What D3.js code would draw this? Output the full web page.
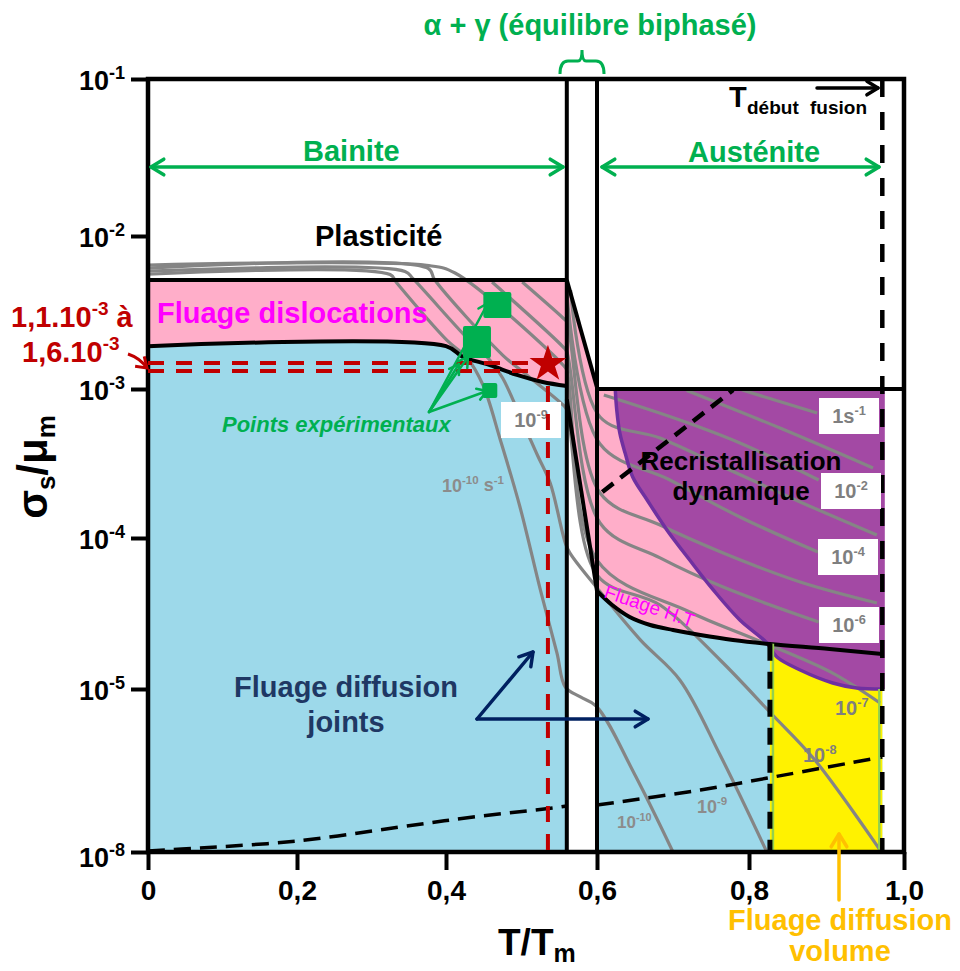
<!DOCTYPE html>
<html><head><meta charset="utf-8">
<script src="https://cdn.jsdelivr.net/npm/d3@7"></script>
<style>
body{margin:0;background:#fff}
svg{display:block}
svg text{font-family:"Liberation Sans",Arial,sans-serif}
</style>
</head><body>
<svg id="c" width="960" height="971"></svg>
<script>
// ---------------- DATA (T/Tm, log10(sigma_s/mu_m)) ----------------
const xTicks = [0, 0.2, 0.4, 0.6, 0.8, 1.0];
const yTickExp = [-8, -5, -4, -3, -2, -1];

const bainiteEnd = 0.56, austeniteStart = 0.6, fusionT = 0.972, volumeStartT = 0.827;
const plasticityLeft = -2.288, plasticityRight = -3.0;

const dislocBoundary = [[0,-2.72],[0.4,-2.72],[0.4225,-2.791],[0.458,-2.843],[0.494,-2.908],[0.528,-2.954],[0.56,-2.98]];
const bandUpper = [[0.56,-2.288],[0.6,-2.99]];
const bandLower = [[0.56,-3.07],[0.6,-4.351]];
const htBoundary = [[0.6,-4.351],[0.62,-4.444],[0.643,-4.523],[0.67,-4.576],[0.7,-4.609],[0.736,-4.642],[0.779,-4.675],[0.827,-4.702],[0.904,-4.735],[0.972,-4.768]];
const recrBoundary = [[0.624,-3.0],[0.626,-3.141],[0.63,-3.295],[0.637,-3.43],[0.647,-3.591],[0.666,-3.745],[0.692,-3.946],[0.722,-4.146],[0.753,-4.344],[0.788,-4.543],[0.823,-4.695],[0.836,-4.788],[0.866,-4.874],[0.908,-4.96],[0.939,-4.993],[0.972,-5.0]];
const recrLimit = [[0.607,-3.691],[0.779,-3.007]];
const lowerDashLeft = [[0,-7.98],[0.07,-7.926],[0.2,-7.798],[0.338,-7.54],[0.436,-7.356],[0.542,-7.19],[0.56,-7.153]];
const lowerDashRight = [[0.6,-7.135],[0.736,-6.859],[0.824,-6.638],[0.972,-6.252]];

const strainRates = ["1","1e-1","1e-2","1e-3","1e-4","1e-5","1e-6","1e-7","1e-8","1e-9","1e-10"];
const isoRateLines = [
 [[0.791,-3.007],[0.888,-3.161]],
 [[0.718,-3.01],[0.840,-3.262],[0.960,-3.530]],
 [[0.609,-3.040],[0.709,-3.208],[0.788,-3.362],[0.890,-3.611]],
 [[0.565,-2.353],[0.604,-3.188],[0.683,-3.329],[0.766,-3.523],[0.866,-3.758],[0.965,-3.980]],
 [[0.56,-2.366],[0.604,-3.369],[0.696,-3.611],[0.788,-3.859],[0.889,-4.093]],
 [[0.501,-2.301],[0.555,-2.536],[0.56,-2.562],[0.604,-3.698],[0.683,-3.913],[0.766,-4.099],[0.866,-4.291],[0.965,-4.430]],
 [[0.461,-2.301],[0.555,-2.725],[0.56,-2.758],[0.604,-3.899],[0.683,-4.132],[0.766,-4.325],[0.890,-4.556]],
 [[0,-2.19],[0.374,-2.192],[0.412,-2.242],[0.555,-2.843],[0.56,-2.876],[0.6,-4.146],[0.722,-4.490],[0.810,-4.675],[0.905,-4.887],[0.969,-5.258]],
 [[0,-2.21],[0.376,-2.212],[0.385,-2.288],[0.475,-2.778],[0.507,-2.908],[0.555,-3.107],[0.56,-3.141],[0.6,-4.245],[0.683,-4.444],[0.762,-4.808],[0.828,-5.442],[0.885,-6.307],[0.969,-7.963]],
 [[0,-2.23],[0.345,-2.232],[0.356,-2.281],[0.428,-2.667],[0.458,-2.810],[0.475,-2.928],[0.502,-3.228],[0.521,-3.443],[0.538,-3.631],[0.558,-4.033],[0.564,-4.099],[0.6,-4.331],[0.657,-4.675],[0.709,-4.940],[0.762,-6.215],[0.823,-8.0]],
 [[0,-2.25],[0.325,-2.252],[0.334,-2.307],[0.401,-2.680],[0.428,-2.797],[0.449,-2.974],[0.472,-3.342],[0.498,-3.792],[0.525,-4.344],[0.547,-4.762],[0.558,-4.987],[0.578,-5.147],[0.599,-5.313],[0.650,-6.583],[0.700,-8.0]]
];

const expT = [0.468, 0.441, 0.458];
const expLogS = [-2.451, -2.693, -3.01];
const stressRangeLog = [-2.83, -2.882];   // 1,1.10^-3 à 1,6.10^-3
const testT = 0.535;
const starLogS = -2.837;

// ---------------- SCALES ----------------
const svg = d3.select("#c");
const X = d3.scaleLinear().domain(xTicks).range([148,297,446,597,749,904]);
const Y = d3.scaleLinear().domain(yTickExp).range([852,689,538,389,236,79]);
const curved = d3.line().x(d=>X(d[0])).y(d=>Y(d[1])).curve(d3.curveCatmullRom.alpha(0.5));
const straight = d3.line().x(d=>X(d[0])).y(d=>Y(d[1]));
const L = (t,e,dx=0)=>`L${X(t)+dx},${Y(e)}`;

const PINK="#FFAEC9", BLUE="#9DD9EA", PURPLE="#A349A4", YELLOW="#FFF200", GRAY="#858585";
const GREEN="#00B050", RED="#C00000", MAG="#FF00FF";

// ---------------- REGIONS ----------------
const reg = svg.append("g");
reg.append("path").attr("fill",PINK)
  .attr("d", curved(dislocBoundary)+L(bainiteEnd,plasticityLeft)+L(0,plasticityLeft)+"Z");
reg.append("path").attr("fill",BLUE)
  .attr("d", curved(dislocBoundary)+L(bainiteEnd,-8)+L(0,-8)+"Z");
reg.append("path").attr("fill",PINK)
  .attr("d", straight([bandUpper[0],bandUpper[1],bandLower[1],bandLower[0]])+"Z");
reg.append("path").attr("fill",BLUE)
  .attr("d", curved(htBoundary)+L(fusionT,-8)+L(austeniteStart,-8)+"Z");
reg.append("path").attr("fill",PINK)
  .attr("d", curved(htBoundary)+L(fusionT,plasticityRight)+L(austeniteStart,plasticityRight)+"Z");
reg.append("rect").attr("fill",YELLOW)
  .attr("x",X(volumeStartT)).attr("y",Y(-4.70))
  .attr("width",X(fusionT)-X(volumeStartT)).attr("height",Y(-8)-Y(-4.70));
reg.append("path").attr("fill",PURPLE)
  .attr("d", curved(recrBoundary)+L(fusionT,-5.0,2.5)+L(fusionT,plasticityRight,2.5)+"Z");

// ---------------- ISO STRAIN RATE LINES ----------------
svg.append("g").selectAll("path").data(isoRateLines).join("path")
  .attr("d", d=>curved(d)).attr("fill","none").attr("stroke",GRAY)
  .attr("stroke-width",3.2).attr("stroke-linejoin","round");

[lowerDashLeft, lowerDashRight].forEach(p=>{
  svg.append("path").attr("d",curved(p)).attr("fill","none").attr("stroke","#000")
   .attr("stroke-width",3.5).attr("stroke-dasharray","17,9");
});

svg.append("path").attr("d",curved(recrBoundary)).attr("fill","none")
  .attr("stroke","#7030A0").attr("stroke-width",3.5);

// ---------------- BLACK BOUNDARIES ----------------
const bl = svg.append("g").attr("fill","none").attr("stroke","#000").attr("stroke-width",4);
bl.append("path").attr("d", straight([[0,plasticityLeft],[bainiteEnd,plasticityLeft]]));
bl.append("path").attr("d", curved(dislocBoundary));
bl.append("path").attr("d", straight(bandUpper));
bl.append("path").attr("d", straight(bandLower));
bl.append("path").attr("d", straight([[austeniteStart,plasticityRight],[1,plasticityRight]]));
bl.append("path").attr("d", curved(htBoundary));
bl.append("path").attr("d", straight([[bainiteEnd,-1],[bainiteEnd,-8]]));
bl.append("path").attr("d", straight([[austeniteStart,-1],[austeniteStart,-8]]));
// thin lime borders of the yellow zone
svg.append("path").attr("d", `M${X(volumeStartT)+3},${Y(-4.70)}V${Y(-8)}`).attr("stroke","#92D050").attr("stroke-width",2.5);
svg.append("path").attr("d", `M${X(fusionT)-3},${Y(-5.0)}V${Y(-8)}`).attr("stroke","#92D050").attr("stroke-width",2.5);
// dashed lines
svg.append("path").attr("d", straight([[volumeStartT,-4.70],[volumeStartT,-8]])).attr("stroke","#000").attr("stroke-width",5).attr("stroke-dasharray","17,11");
svg.append("path").attr("d", straight([[fusionT,-1],[fusionT,-8]])).attr("stroke","#000").attr("stroke-width",4.5).attr("stroke-dasharray","18,15");
svg.append("path").attr("d", straight(recrLimit)).attr("stroke","#000").attr("stroke-width",4.5).attr("stroke-dasharray","14,9");
svg.append("rect").attr("x",X(0)).attr("y",Y(-1)).attr("width",X(1)-X(0)).attr("height",Y(-8)-Y(-1))
  .attr("fill","none").attr("stroke","#000").attr("stroke-width",4.5);

// ---------------- AXES ----------------
const fmtX = d => d===0 ? "0" : d3.format(".1f")(d).replace(".",",");
const gx = svg.append("g").attr("transform",`translate(0,${Y(-8)})`)
  .call(d3.axisBottom(X).tickValues(xTicks).tickSize(18).tickPadding(10).tickFormat(fmtX));
gx.attr("font-family",null).attr("font-size",null);
gx.select(".domain").remove();
gx.selectAll(".tick line").attr("stroke","#000").attr("stroke-width",4);
gx.selectAll(".tick text").attr("font-size",28).attr("font-weight","bold").attr("fill","#000");

const gy = svg.append("g").attr("transform",`translate(${X(0)},0)`)
  .call(d3.axisLeft(Y).tickValues(yTickExp).tickSize(17).tickPadding(6).tickFormat(""));
gy.attr("font-family",null).attr("font-size",null);
gy.select(".domain").remove();
gy.selectAll(".tick line").attr("stroke","#000").attr("stroke-width",4);
gy.selectAll(".tick text").each(function(d){
  const t = d3.select(this).attr("font-size",27).attr("font-weight","bold").attr("fill","#000")
    .attr("dy", d===-8 ? "0.55em" : "0.4em");
  t.append("tspan").text("10");
  t.append("tspan").attr("dy",-11).attr("font-size",18).text(String(d));
});

// ---------------- HELPERS ----------------
function chevron(x1,y1,x2,y2,len,ang){
  const a=Math.atan2(y2-y1,x2-x1);
  const p1=[x2-len*Math.cos(a-ang), y2-len*Math.sin(a-ang)];
  const p2=[x2-len*Math.cos(a+ang), y2-len*Math.sin(a+ang)];
  return `M${p1[0]},${p1[1]}L${x2},${y2}L${p2[0]},${p2[1]}`;
}
function arrow(x1,y1,x2,y2,color,w,len,both){
  const g=svg.append("g").attr("fill","none").attr("stroke",color).attr("stroke-width",w)
    .attr("stroke-linecap","round").attr("stroke-linejoin","round");
  g.append("path").attr("d",`M${x1},${y1}L${x2},${y2}`);
  g.append("path").attr("d",chevron(x1,y1,x2,y2,len,0.55));
  if(both) g.append("path").attr("d",chevron(x2,y2,x1,y1,len,0.55));
}
function txt(x,y,s,size,fill,opt={}){
  return svg.append("text").attr("x",x).attr("y",y).attr("font-size",size)
    .attr("font-weight",opt.weight||"bold").attr("fill",fill)
    .attr("font-style",opt.italic?"italic":null)
    .attr("text-anchor",opt.anchor||"start").text(s);
}
function supTxt(x,y,base,sup,size,fill,anchor){
  const t=svg.append("text").attr("x",x).attr("y",y).attr("font-size",size)
    .attr("font-weight","bold").attr("fill",fill).attr("text-anchor",anchor||"start");
  t.append("tspan").text(base);
  t.append("tspan").attr("dy",-size*0.42).attr("font-size",size*0.64).text(sup);
  return t;
}
function boxLabel(cx,cy,base,sup){
  svg.append("rect").attr("x",cx-30).attr("y",cy-18).attr("width",60).attr("height",36).attr("fill","#fff");
  supTxt(cx,cy+7,base,sup,20,"#7F7F7F","middle");
}

// ---------------- LABELS ----------------
boxLabel(849,416,"1s","-1");
boxLabel(851,491,"10","-2");
boxLabel(848,557,"10","-4");
boxLabel(849,625,"10","-6");
boxLabel(531,420,"10","-9");
{ const t=supTxt(442,492,"10","-10",18,"#8C8C8C"); t.append("tspan").attr("dy",7).attr("font-size",18).text(" s"); t.append("tspan").attr("dy",-7).attr("font-size",11.5).text("-1"); }
supTxt(835,715,"10","-7",20,"#7F7F7F");
supTxt(803,762,"10","-8",20,"#7F7F7F");
supTxt(697,813,"10","-9",18,"#8C8C8C");
supTxt(617,828,"10","-10",17,"#8C8C8C");

// red stress range
const rg = svg.append("g").attr("stroke",RED).attr("stroke-width",4).attr("fill","none").attr("stroke-dasharray","16,12");
stressRangeLog.forEach(v=> rg.append("path").attr("d", straight([[0,v],[0.518,v]])));
rg.append("path").attr("d", straight([[testT,-2.98],[testT,-8]]));
svg.append("path").attr("transform",`translate(${X(testT)},${Y(starLogS)})`)
  .attr("d", d3.symbol(d3.symbolStar).size(420)()).attr("fill",RED);

// experimental points
const expSizes=[[28,26],[28,32],[15,15]];
svg.append("g").selectAll("rect").data(expT.map((t,i)=>({t,s:expLogS[i],w:expSizes[i][0],h:expSizes[i][1]}))).join("rect")
  .attr("x",d=>X(d.t)-d.w/2).attr("y",d=>Y(d.s)-d.h/2).attr("width",d=>d.w).attr("height",d=>d.h)
  .attr("rx",2).attr("fill",GREEN);
arrow(429,412,488,303,GREEN,2.5,11);
arrow(429,412,468,357,GREEN,2.5,11);
arrow(429,412,459,364,GREEN,2.5,11);
arrow(429,412,487,391,GREEN,2.5,11);
txt(222,432,"Points expérimentaux",22,GREEN,{italic:true});

// region titles
txt(315,246,"Plasticité",29,"#000");
txt(157,323,"Fluage dislocations",29,MAG);
txt(303,161,"Bainite",29,GREEN);
txt(688,162,"Austénite",29,GREEN);
arrow(151,167,563,167,GREEN,3.5,15,true);
arrow(602,167,879,167,GREEN,3.5,15,true);
txt(590,35,"α + γ (équilibre biphasé)",29,GREEN,{anchor:"middle"});
svg.append("path").attr("d","M560,74 Q560,61 568,61 L578,61 Q582,61 582,50 Q582,61 586,61 L596,61 Q604,61 604,74")
  .attr("fill","none").attr("stroke",GREEN).attr("stroke-width",3);

txt(729,107,"T",29,"#000");
txt(747,114,"début",19,"#000");
txt(810,114,"fusion",19,"#000");
arrow(817,88,878,88,"#000",3.5,13);

txt(741,470,"Recristallisation",26,"#000",{anchor:"middle"});
txt(741,500,"dynamique",26,"#000",{anchor:"middle"});
txt(0,0,"Fluage H.T",19,MAG,{weight:"normal"}).attr("transform","translate(603,597) rotate(19)");

txt(346,697,"Fluage diffusion",29,"#1F3864",{anchor:"middle"});
txt(346,732,"joints",29,"#1F3864",{anchor:"middle"});
arrow(477,719,533,652,"#002060",3.5,15);
arrow(477,719,648,719,"#002060",3.5,15);

txt(840,930,"Fluage diffusion",29,"#FFC000",{anchor:"middle"});
txt(840,961,"volume",29,"#FFC000",{anchor:"middle"});
arrow(839,900,839,834,"#FFC000",3.5,15);

{ const t=svg.append("text").attr("x",11).attr("y",327).attr("font-size",29).attr("font-weight","bold").attr("fill",RED);
  t.append("tspan").text("1,1.10"); t.append("tspan").attr("dy",-12).attr("font-size",19).text("-3");
  t.append("tspan").attr("dy",12).text(" à"); }
{ const t=svg.append("text").attr("x",22).attr("y",362).attr("font-size",29).attr("font-weight","bold").attr("fill",RED);
  t.append("tspan").text("1,6.10"); t.append("tspan").attr("dy",-12).attr("font-size",19).text("-3"); }
svg.append("path").attr("d","M128,354 Q140,358 147,368").attr("fill","none").attr("stroke",RED).attr("stroke-width",3);
svg.append("path").attr("d",chevron(136,358,147,368,12,0.6)).attr("fill","none").attr("stroke",RED).attr("stroke-width",3);

{ const t=svg.append("text").attr("transform","translate(47,467) rotate(-90)").attr("text-anchor","middle")
    .attr("font-weight","bold").attr("fill","#000").attr("font-size",42);
  t.append("tspan").text("σ"); t.append("tspan").attr("font-size",26).attr("dy",8).text("s");
  t.append("tspan").attr("dy",-8).text("/μ"); t.append("tspan").attr("font-size",26).attr("dy",8).text("m"); }
{ const t=svg.append("text").attr("x",498).attr("y",955).attr("font-weight","bold").attr("fill","#000").attr("font-size",37);
  t.append("tspan").text("T/T"); t.append("tspan").attr("font-size",25).attr("dy",7).text("m"); }
</script>
</body></html>
